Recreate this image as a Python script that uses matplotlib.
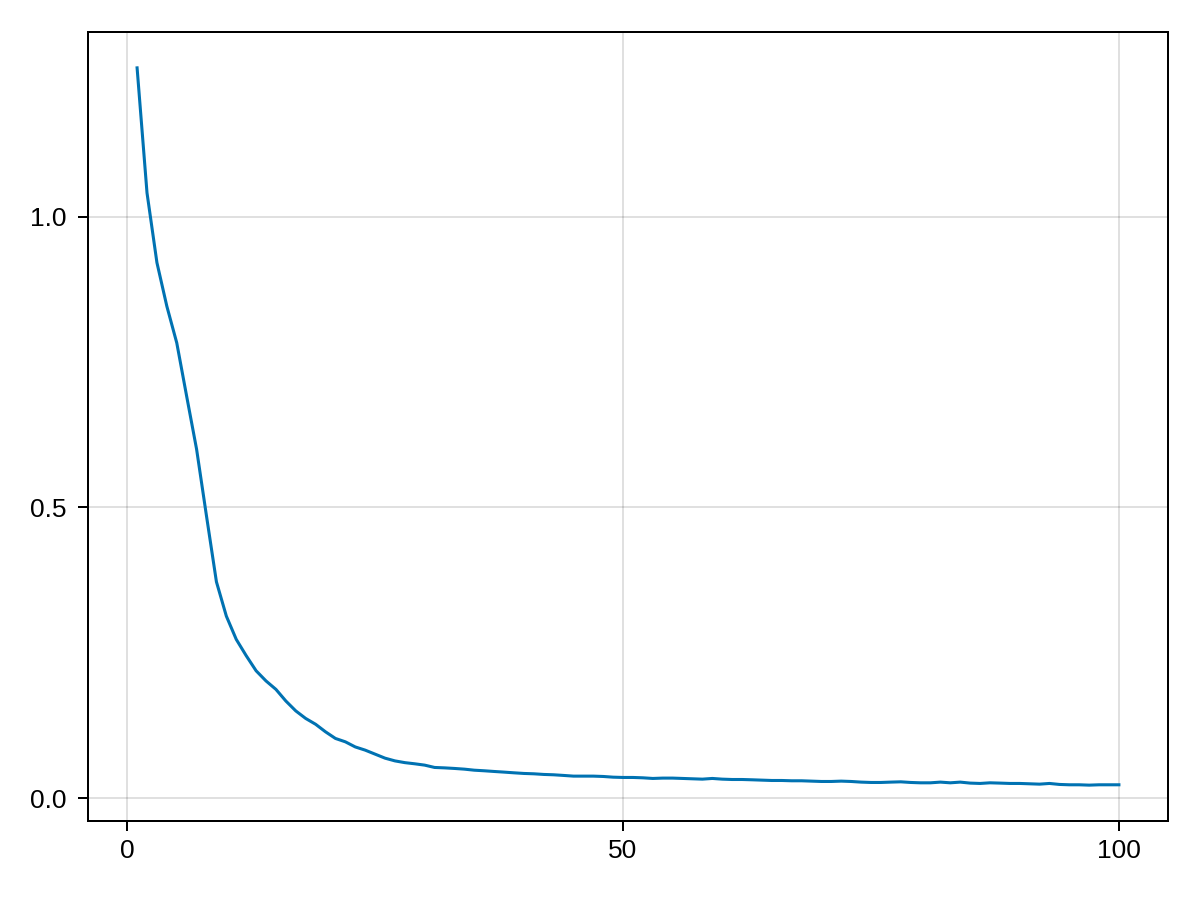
import matplotlib
matplotlib.use("Agg")
import matplotlib.pyplot as plt
import numpy as np

epochs = list(range(1, 101))
loss = [
    1.256, 1.041, 0.921, 0.846, 0.783, 0.691, 0.600, 0.485, 0.372, 0.313,
    0.273, 0.245, 0.219, 0.2015, 0.187, 0.167, 0.150, 0.137, 0.127, 0.114,
    0.1026, 0.0968, 0.088, 0.0825, 0.0756, 0.0687, 0.064, 0.061, 0.059, 0.0567,
    0.0527, 0.052, 0.051, 0.0498, 0.048, 0.047, 0.0458, 0.0447, 0.0435, 0.0424,
    0.0418, 0.0407, 0.0401, 0.039, 0.0378, 0.0378, 0.0378, 0.0372, 0.036, 0.0355,
    0.0355, 0.0349, 0.0338, 0.0344, 0.0344, 0.0338, 0.0332, 0.0326, 0.0338, 0.0326,
    0.032, 0.032, 0.0315, 0.0309, 0.0303, 0.0303, 0.0298, 0.0298, 0.0292, 0.0286,
    0.0286, 0.0292, 0.0286, 0.0275, 0.0269, 0.0269, 0.0275, 0.028, 0.0269, 0.0263,
    0.0263, 0.0275, 0.0263, 0.0275, 0.0258, 0.0252, 0.0263, 0.0258, 0.0252, 0.0252,
    0.0246, 0.024, 0.0252, 0.0235, 0.0229, 0.0229, 0.0223, 0.0229, 0.0229, 0.0229,
]
xticks = [0, 50, 100]
yticks = [0.0, 0.5, 1.0]
ytick_labels = ["0.0", "0.5", "1.0"]

plt.rcParams['font.family'] = ['Liberation Sans', 'DejaVu Sans']

fig = plt.figure(figsize=(12, 9), dpi=100)
ax = fig.add_axes([88/1200, 1 - 821/900, (1168-88)/1200, (821-32)/900])

ax.plot(epochs, loss, color="#0072B2", linewidth=2.2, solid_joinstyle="round")

xmin, xmax = min(epochs), max(epochs)
ymin, ymax = min(loss), max(loss)
mx = 0.05 * (xmax - xmin)
my = 0.05 * (ymax - ymin)
ax.set_xlim(xmin - mx, xmax + mx)
ax.set_ylim(ymin - my, ymax + my)

ax.set_xticks(xticks)
ax.set_xticklabels([str(t) for t in xticks])
ax.set_yticks(yticks)
ax.set_yticklabels(ytick_labels)

for s in ax.spines.values():
    s.set_linewidth(1.44)
    s.set_color("black")
ax.tick_params(axis="both", direction="out", length=7.2, width=1.44,
               labelsize=19, color="black", labelcolor="black")
ax.tick_params(axis="x", pad=6)
ax.tick_params(axis="y", pad=8)
ax.grid(True, color="black", alpha=0.12, linewidth=1.44)
ax.set_axisbelow(True)

fig.savefig("out.png", dpi=100, facecolor="white")
